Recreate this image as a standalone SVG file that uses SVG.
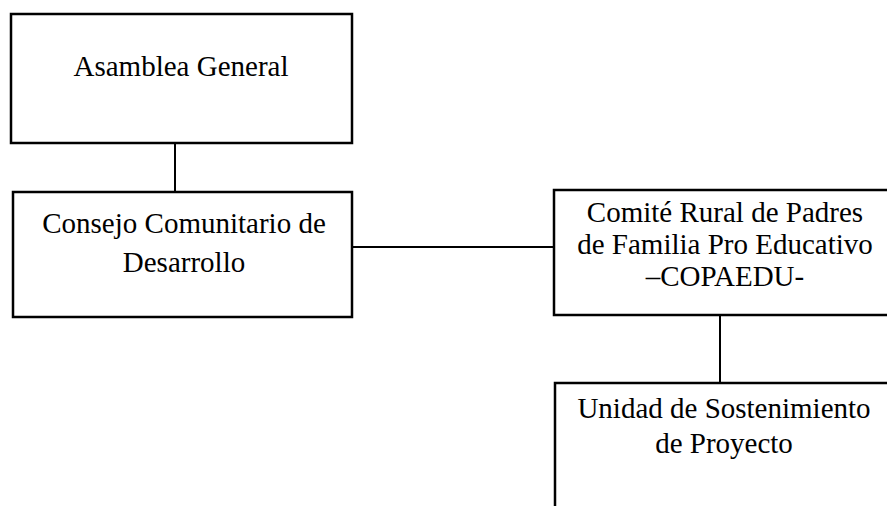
<svg xmlns="http://www.w3.org/2000/svg" width="887" height="506" viewBox="0 0 887 506">
<style>
.box{fill:#fff;stroke:#000;stroke-width:2.5}
.lbl{font-family:"Liberation Serif","Times New Roman",serif;font-size:29px;fill:#000;text-anchor:middle}
.con{stroke:#000;stroke-width:2;fill:none}
</style>
<rect width="887" height="506" fill="#fff"/>
<g id="connectors">
<line class="con" x1="175" y1="143" x2="175" y2="192"/>
<line class="con" x1="352" y1="247" x2="554" y2="247"/>
<line class="con" x1="720" y1="315" x2="720" y2="383"/>
</g>
<g id="asamblea">
<rect class="box" x="11" y="14" width="341" height="129"/>
<text class="lbl" x="181" y="76">Asamblea General</text>
</g>
<g id="consejo">
<rect class="box" x="13" y="192" width="339" height="125"/>
<text class="lbl" x="184" y="233">Consejo Comunitario de</text>
<text class="lbl" x="184" y="272">Desarrollo</text>
</g>
<g id="comite">
<rect class="box" x="554" y="190" width="340" height="125"/>
<text class="lbl" x="725" y="222">Comité Rural de Padres</text>
<text class="lbl" x="725" y="254">de Familia Pro Educativo</text>
<text class="lbl" x="725" y="286">–COPAEDU-</text>
</g>
<g id="unidad">
<rect class="box" x="555" y="383" width="340" height="130"/>
<text class="lbl" x="724" y="418">Unidad de Sostenimiento</text>
<text class="lbl" x="724" y="453">de Proyecto</text>
</g>
</svg>
